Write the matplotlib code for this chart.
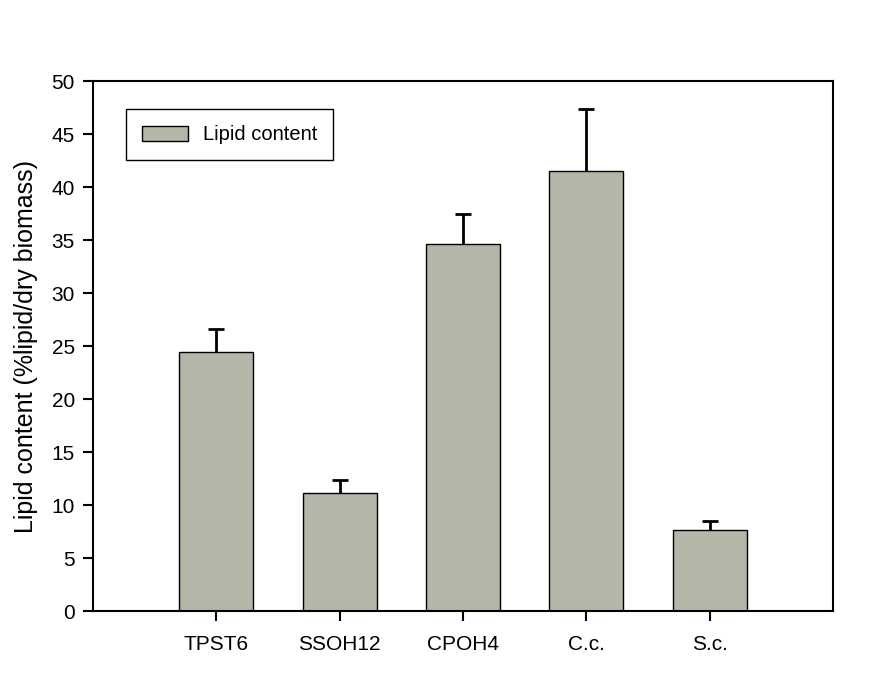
import numpy as np
import matplotlib.pyplot as plt

plt.rcParams['font.family'] = ['Liberation Sans', 'DejaVu Sans']

# --- Data ---
strains = ['TPST6', 'SSOH12', 'CPOH4', 'C.c.', 'S.c.']
lipid = [24.4, 11.1, 34.6, 41.5, 7.6]
lipid_err = [2.2, 1.3, 2.9, 5.9, 0.9]

x = np.arange(len(strains))

fig = plt.figure(figsize=(8.75, 6.78), dpi=100)
ax = fig.add_axes([0.1063, 0.0988, 0.8457, 0.7817])

ax.bar(x, lipid, width=0.6, color='#b5b5a8', edgecolor='black', linewidth=1,
       label='Lipid content', zorder=2)

# upper-only error bars
eb = ax.errorbar(x, lipid, yerr=[np.zeros(len(lipid)), lipid_err], fmt='none',
                 ecolor='black', elinewidth=2, capsize=5.5, capthick=2, zorder=3)
eb[1][0].set_visible(False)  # hide lower cap

ax.set_xlim(-1, 5)
ax.set_ylim(0, 50)
ax.set_yticks(np.arange(0, 51, 5))
ax.set_xticks(x)
ax.set_xticklabels(strains)
ax.tick_params(direction='out', length=7, width=1.5, labelsize=15, pad=6)
ax.tick_params(axis='x', pad=10)
for s in ax.spines.values():
    s.set_linewidth(1.5)

ax.set_ylabel('Lipid content (%lipid/dry biomass)', fontsize=18, labelpad=10)

leg = ax.legend(loc='upper left', bbox_to_anchor=(0.0446, 0.947), fancybox=False,
                edgecolor='black', fontsize=14.5, handlelength=2.3, handleheight=0.8,
                handletextpad=0.7, borderpad=0.8, borderaxespad=0, framealpha=1)
leg.get_frame().set_linewidth(1)

fig.savefig('out.png', dpi=100)
